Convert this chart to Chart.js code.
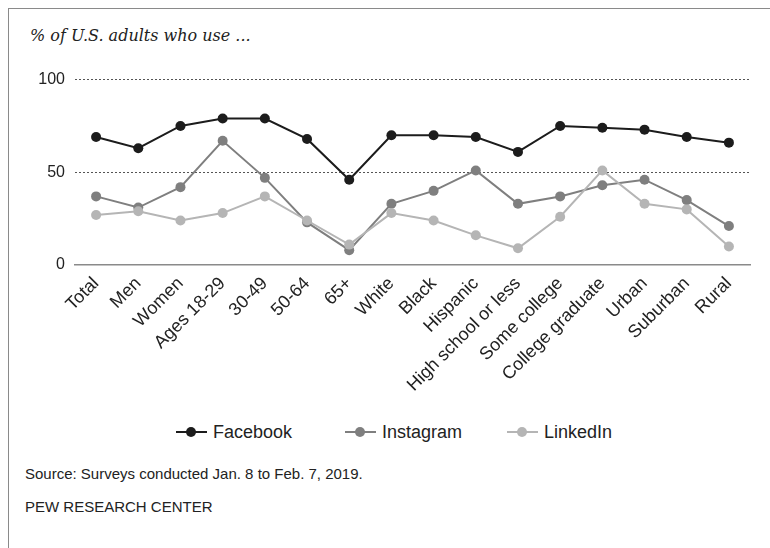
<!DOCTYPE html>
<html>
<head>
<meta charset="utf-8">
<script src="https://cdn.jsdelivr.net/npm/chart.js@4.4.1/dist/chart.umd.min.js"></script>
<style>
  body { margin: 0; background: #fff; width: 770px; height: 548px; overflow: hidden; position: relative; }
  .frame { position: absolute; left: 8px; top: 8px; width: 770px; height: 560px; border-left: 1.5px solid #8a8a8a; border-top: 1.5px solid #8a8a8a; }
  .title { position: absolute; left: 30px; top: 26px; font: italic 16px "DejaVu Serif", "Liberation Serif", serif; color: #222; }
  .chart-box { position: absolute; left: 0; top: 60px; width: 770px; height: 345px; }
  .legend { position: absolute; top: 421px; left: 0; width: 770px; font: 18px "Liberation Sans", sans-serif; color: #222; }
  .legend .item { position: absolute; display: flex; align-items: center; }
  .legend .mark { position: relative; width: 31px; height: 22px; margin-right: 6px; }
  .legend .mark .ln { position: absolute; left: 0; right: 0; top: 10px; height: 2px; }
  .legend .mark .dot { position: absolute; left: 10px; top: 6px; width: 10px; height: 10px; border-radius: 50%; }
  .note { position: absolute; left: 25px; font: 15px "Liberation Sans", sans-serif; color: #222; }
</style>
</head>
<body>
<div class="frame"></div>
<div class="title">% of U.S. adults who use ...</div>
<div class="chart-box"><canvas id="usageChart"></canvas></div>
<div class="legend" id="legend"></div>
<div class="note" style="top:465px">Source: Surveys conducted Jan. 8 to Feb. 7, 2019.</div>
<div class="note" style="top:498px">PEW RESEARCH CENTER</div>

<script>
// data

const categories = ["Total", "Men", "Women", "Ages 18-29", "30-49", "50-64", "65+", "White", "Black",
  "Hispanic", "High school or less", "Some college", "College graduate", "Urban", "Suburban", "Rural"];

const facebook = [69, 63, 75, 79, 79, 68, 46, 70, 70, 69, 61, 75, 74, 73, 69, 66];
const instagram = [37, 31, 42, 67, 47, 23, 8, 33, 40, 51, 33, 37, 43, 46, 35, 21];
const linkedin = [27, 29, 24, 28, 37, 24, 11, 28, 24, 16, 9, 26, 51, 33, 30, 10];

const yTicks = [0, 50, 100];

const seriesNames = ["Facebook", "Instagram", "LinkedIn"];
const seriesColors = ["#1c1c1c", "#7f7f7f", "#b5b5b5"];

function makeDataset(i, values) {
  return {
    label: seriesNames[i],
    data: values,
    borderColor: seriesColors[i],
    backgroundColor: seriesColors[i],
    borderWidth: 2,
    pointRadius: 5,
    pointHoverRadius: 5,
    pointBorderWidth: 0,
    tension: 0,
  };
}

const ctx = document.getElementById("usageChart");

const usageChart = new Chart(ctx, {
  type: "line",
  data: {
    labels: categories,
    // LinkedIn first so the darker lines sit on top
    datasets: [
      makeDataset(2, linkedin),
      makeDataset(1, instagram),
      makeDataset(0, facebook),
    ],
  },
  options: {
    responsive: true,
    maintainAspectRatio: false,
    animation: false,
    layout: { padding: { top: 15, right: 20, left: 0, bottom: 0 } },
    plugins: {
      legend: { display: false },
      tooltip: { enabled: false },
    },
    scales: {
      x: {
        offset: true,
        grid: { display: false },
        border: { display: true, color: "#8a8a8a", width: 1.5 },
        ticks: {
          color: "#222",
          font: { family: "'Liberation Sans', sans-serif", size: 18 },
          minRotation: 45,
          maxRotation: 45,
          autoSkip: false,
          padding: 0,
        },
        afterFit: (scale) => {
          scale.height = 140;
        },
      },
      y: {
        min: 0,
        max: 100,
        afterBuildTicks: (scale) => {
          scale.ticks = yTicks.map((v) => ({ value: v }));
        },
        afterFit: (scale) => {
          scale.width = 75;
        },
        border: { display: false, dash: [2, 2] },
        grid: {
          drawTicks: false,
          color: (c) => (c.tick && c.tick.value === 0 ? "rgba(0,0,0,0)" : "#555"),
          lineWidth: 1,
        },
        ticks: {
          color: "#222",
          font: { family: "'Liberation Sans', sans-serif", size: 16 },
          padding: 10,
        },
      },
    },
  },
});

// Legend

const legend = document.getElementById("legend");
const legendLeft = [176, 345, 507];

seriesNames.forEach((name, i) => {
  const item = document.createElement("div");
  item.className = "item";
  item.style.left = legendLeft[i] + "px";
  item.innerHTML = `
    <span class="mark">
      <span class="ln" style="background:${seriesColors[i]}"></span>
      <span class="dot" style="background:${seriesColors[i]}"></span>
    </span>
    <span>${name}</span>`;
  legend.appendChild(item);
});
</script>
</body>
</html>
